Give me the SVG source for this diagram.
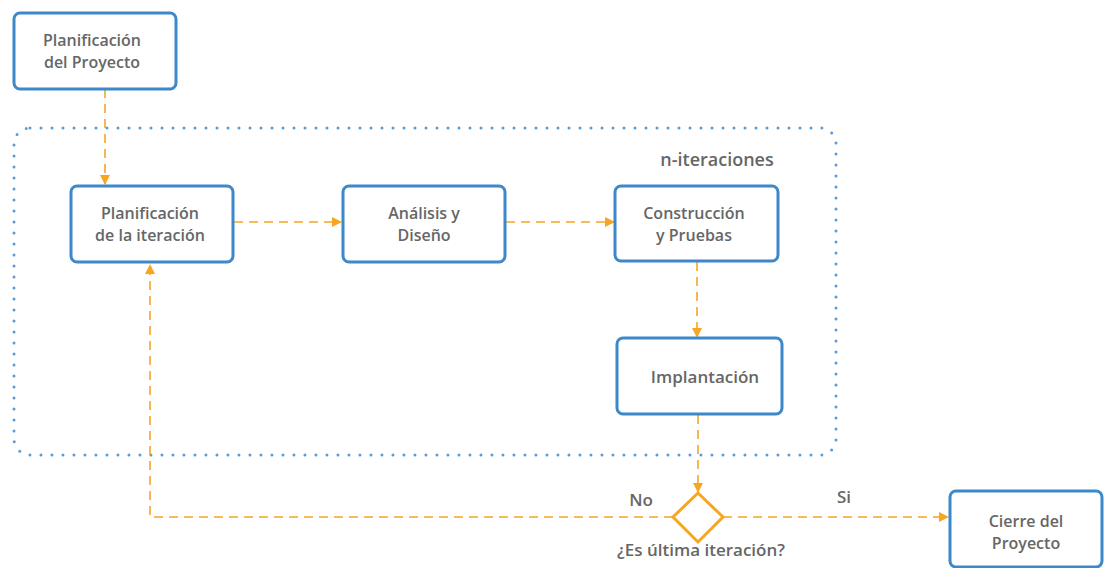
<svg xmlns="http://www.w3.org/2000/svg" width="1105" height="568" viewBox="0 0 1105 568">
<defs>
<style>
.box{fill:#fff;stroke:#3c88c9;stroke-width:3}
.t{font-family:"Open Sans","Noto Sans",sans-serif;font-size:16px;font-weight:600;fill:#666;text-anchor:middle}
.c{fill:none;stroke:#f5a623;stroke-width:1.6;stroke-dasharray:9 6}
.g{fill:none;stroke:#5b9bd5;stroke-width:3;stroke-linecap:round;stroke-dasharray:0 11}
</style>
<marker id="ah" viewBox="0 0 10 10" refX="9" refY="5" markerWidth="10" markerHeight="10" markerUnits="userSpaceOnUse" orient="auto">
<path d="M0,0 L10,5 L0,10 z" fill="#f5a623"/>
</marker>
</defs>
<rect x="14" y="128" width="822" height="327" rx="16" class="g"/>
<text x="717" y="166" class="t" style="font-size:18px">n-iteraciones</text>
<g id="connectors">
<path d="M105,89 V184" class="c" marker-end="url(#ah)"/>
<path d="M234,222 H341" class="c" marker-end="url(#ah)"/>
<path d="M506,222 H614" class="c" marker-end="url(#ah)"/>
<path d="M697,262 V337" class="c" marker-end="url(#ah)"/>
<path d="M698,415 V492" class="c" marker-end="url(#ah)"/>
<path d="M673,517 H150 V265" class="c" marker-end="url(#ah)"/>
<path d="M723,517 H948" class="c" marker-end="url(#ah)"/>
<text x="641" y="506" class="t" style="font-size:17px">No</text>
<text x="844" y="503" class="t" style="font-size:17px">Si</text>
</g>
<g id="n1"><rect x="14" y="13" width="162" height="76" rx="6" class="box"/><text class="t"><tspan x="92" y="46">Planificación</tspan><tspan x="92" y="68">del Proyecto</tspan></text></g>
<g id="n2"><rect x="71" y="186" width="162" height="76" rx="6" class="box"/><text class="t"><tspan x="150" y="219">Planificación</tspan><tspan x="150" y="241">de la iteración</tspan></text></g>
<g id="n3"><rect x="343" y="186" width="162" height="76" rx="6" class="box"/><text class="t"><tspan x="424" y="219">Análisis y</tspan><tspan x="424" y="241">Diseño</tspan></text></g>
<g id="n4"><rect x="615" y="186" width="163" height="75" rx="6" class="box"/><text class="t"><tspan x="694" y="219">Construcción</tspan><tspan x="694" y="241">y Pruebas</tspan></text></g>
<g id="n5"><rect x="617" y="338" width="165" height="76" rx="6" class="box"/><text x="705" y="383" class="t" style="font-size:17px">Implantación</text></g>
<g id="d1"><path d="M698,493 L723,517 L698,542 L673,517 Z" fill="#fff" stroke="#f5a623" stroke-width="3"/><text x="701" y="556" class="t" style="font-size:17px">¿Es última iteración?</text></g>
<g id="n6"><rect x="950" y="491" width="152" height="76" rx="6" class="box"/><text class="t"><tspan x="1026" y="527">Cierre del</tspan><tspan x="1026" y="549">Proyecto</tspan></text></g>
</svg>
